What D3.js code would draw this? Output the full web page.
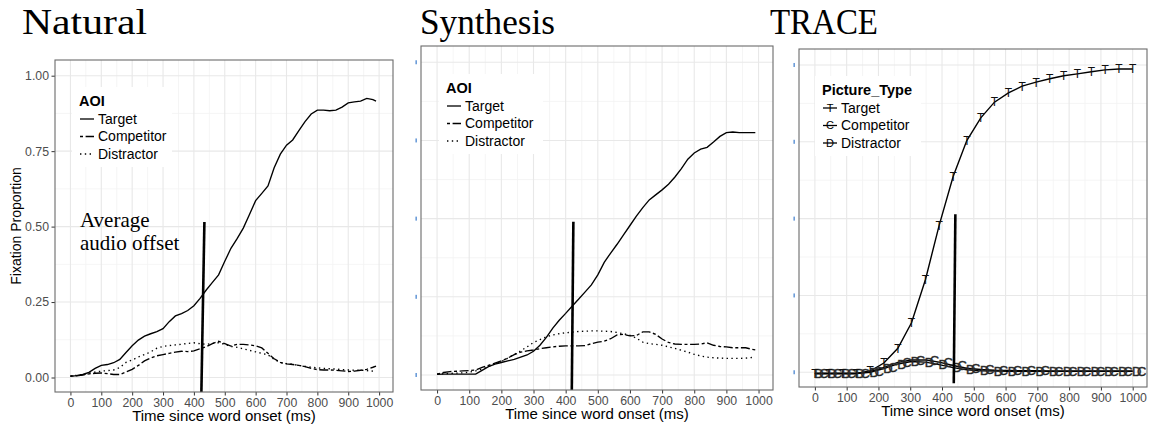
<!DOCTYPE html>
<html><head><meta charset="utf-8">
<script src="https://cdn.jsdelivr.net/npm/d3@7/dist/d3.min.js"></script>
<style>body{margin:0;background:#fff}svg{display:block}</style>
</head><body>
<svg id="chart" width="1151" height="428"></svg>
<script>
// ---------- data ----------
const timeTicks = [0,100,200,300,400,500,600,700,800,900,1000];
const propTicks = [0,0.25,0.5,0.75,1];
const propTickLabels = ["0.00","0.25","0.50","0.75","1.00"];
const seriesNames = ["Target","Competitor","Distractor"];
const panelTitles = ["Natural","Synthesis","TRACE"];
const legendTitles = ["AOI","AOI","Picture_Type"];
const traceShapes = ["T","C","D"];
const xAxisTitle = "Time since word onset (ms)";
const yAxisTitle = "Fixation Proportion";
const offsetNote = ["Average","audio offset"];

const natTime = [0,20,40,60,80,100,120,140,160,180,200,220,240,260,280,300,320,340,360,380,400,420,440,460,480,500,520,540,560,580,600,620,640,660,680,700,720,740,760,780,800,820,840,860,880,900,920,940,960,980,990];
const natTarget = [0.004,0.006,0.010,0.017,0.030,0.040,0.043,0.049,0.060,0.083,0.105,0.124,0.137,0.145,0.152,0.162,0.185,0.204,0.212,0.222,0.238,0.262,0.290,0.315,0.340,0.385,0.428,0.460,0.495,0.540,0.586,0.610,0.635,0.695,0.740,0.770,0.787,0.818,0.848,0.873,0.886,0.886,0.884,0.886,0.896,0.910,0.913,0.916,0.925,0.921,0.916];
const natCompetitor = [0.005,0.006,0.008,0.012,0.014,0.015,0.013,0.010,0.010,0.018,0.027,0.040,0.055,0.065,0.072,0.076,0.080,0.084,0.087,0.086,0.088,0.095,0.102,0.112,0.120,0.112,0.104,0.110,0.110,0.108,0.105,0.098,0.080,0.062,0.050,0.045,0.043,0.040,0.036,0.030,0.026,0.025,0.025,0.024,0.022,0.020,0.021,0.024,0.027,0.034,0.038];
const natDistractor = [0.005,0.007,0.010,0.014,0.018,0.021,0.023,0.025,0.033,0.050,0.058,0.068,0.076,0.085,0.097,0.103,0.106,0.108,0.110,0.113,0.115,0.112,0.110,0.113,0.115,0.110,0.103,0.100,0.095,0.090,0.085,0.080,0.075,0.060,0.050,0.046,0.044,0.040,0.037,0.034,0.032,0.030,0.029,0.028,0.026,0.025,0.024,0.024,0.023,0.021,0.020];
const natOffsetTime = [434,424];
const natOffsetProp = [0.515,-0.06];

const synTime = natTime;
const synTarget = [0.002,0.003,0.003,0.003,0.003,0.003,0.003,0.015,0.027,0.035,0.040,0.045,0.050,0.057,0.064,0.076,0.095,0.120,0.150,0.175,0.197,0.220,0.242,0.265,0.288,0.320,0.360,0.390,0.418,0.448,0.478,0.508,0.535,0.560,0.576,0.592,0.610,0.633,0.660,0.690,0.710,0.722,0.728,0.745,0.763,0.775,0.777,0.775,0.775,0.775,0.775];
const synCompetitor = [0.003,0.008,0.011,0.012,0.013,0.014,0.016,0.024,0.031,0.038,0.045,0.054,0.065,0.073,0.077,0.080,0.084,0.087,0.090,0.092,0.093,0.093,0.093,0.094,0.100,0.105,0.108,0.116,0.128,0.130,0.125,0.126,0.138,0.138,0.130,0.115,0.104,0.099,0.098,0.098,0.098,0.099,0.103,0.095,0.091,0.090,0.087,0.087,0.087,0.082,0.080];
const synDistractor = [0.003,0.004,0.005,0.006,0.007,0.009,0.013,0.019,0.027,0.035,0.043,0.054,0.066,0.077,0.090,0.104,0.113,0.122,0.128,0.132,0.135,0.137,0.139,0.140,0.141,0.141,0.140,0.139,0.136,0.132,0.127,0.118,0.105,0.100,0.098,0.095,0.090,0.085,0.079,0.073,0.066,0.061,0.057,0.055,0.054,0.053,0.053,0.053,0.054,0.056,0.057];
const synOffsetTime = [424,419];
const synOffsetProp = [0.49,-0.06];

const traceTime = [0,43,87,130,174,217,261,304,348,391,435,478,522,565,609,652,696,739,783,826,870,913,957,1000];
const traceTarget = [-0.004,-0.004,-0.004,-0.004,0.004,0.030,0.078,0.161,0.302,0.478,0.637,0.754,0.828,0.879,0.909,0.931,0.944,0.955,0.965,0.971,0.978,0.984,0.987,0.987];
const traceCompetitor = [-0.004,-0.004,-0.004,-0.004,0.002,0.016,0.032,0.040,0.040,0.033,0.022,0.013,0.009,0.007,0.006,0.005,0.005,0.004,0.004,0.004,0.004,0.004,0.004,0.004];
const traceDistractor = [-0.004,-0.004,-0.004,-0.004,0.000,0.012,0.027,0.035,0.033,0.025,0.015,0.008,0.005,0.004,0.003,0.003,0.003,0.003,0.003,0.003,0.003,0.003,0.003,0.003];
const traceOffsetTime = [442,437];
const traceOffsetProp = [0.514,-0.036];

// ---------- drawing ----------
const svg = d3.select("#chart");
const SANS = "'Liberation Sans', Arial, sans-serif";
const SERIF = "'Liberation Serif', 'Times New Roman', serif";
const dashes = [null, "3 2.6 9 2.6", "1.4 3.4"];

function drawPanel(p) {
  const b = p.box;
  const g = svg.append("g");
  const x = d3.scaleLinear().domain(p.xd).range([b.x0, b.x1]);
  const y = d3.scaleLinear().domain(p.yd).range([b.y1, b.y0]);
  const clipId = "clip" + p.idx;
  svg.append("clipPath").attr("id", clipId).append("rect")
    .attr("x", b.x0).attr("y", b.y0).attr("width", b.x1 - b.x0).attr("height", b.y1 - b.y0);

  const grid = g.append("g");
  const minorX = timeTicks.slice(1).map((t, i) => (t + timeTicks[i]) / 2);
  const minorY = propTicks.slice(1).map((t, i) => (t + propTicks[i]) / 2);
  grid.selectAll(".mx").data(minorX).join("line")
    .attr("x1", d => x(d)).attr("x2", d => x(d)).attr("y1", b.y0).attr("y2", b.y1)
    .attr("stroke", "#f2f2f2").attr("stroke-width", 0.8);
  grid.selectAll(".my").data(minorY).join("line")
    .attr("y1", d => y(d)).attr("y2", d => y(d)).attr("x1", b.x0).attr("x2", b.x1)
    .attr("stroke", "#f2f2f2").attr("stroke-width", 0.8);
  grid.selectAll(".gx").data(timeTicks).join("line")
    .attr("x1", d => x(d)).attr("x2", d => x(d)).attr("y1", b.y0).attr("y2", b.y1)
    .attr("stroke", "#e8e8e8").attr("stroke-width", 1.1);
  grid.selectAll(".gy").data(propTicks).join("line")
    .attr("y1", d => y(d)).attr("y2", d => y(d)).attr("x1", b.x0).attr("x2", b.x1)
    .attr("stroke", "#e8e8e8").attr("stroke-width", 1.1);

  // x axis
  const xa = g.append("g").attr("transform", `translate(0,${b.y1})`)
    .call(d3.axisBottom(x).tickValues(timeTicks).tickSize(3.5).tickPadding(2.5).tickFormat(d3.format("d")));
  xa.select(".domain").remove();
  xa.selectAll("line").attr("stroke", "#333");
  xa.selectAll("text").attr("fill", "#4d4d4d").style("font-family", SANS).style("font-size", "12.3px");

  if (p.yLabels) {
    const ya = g.append("g").attr("transform", `translate(${b.x0},0)`)
      .call(d3.axisLeft(y).tickValues(propTicks).tickSize(3.5).tickPadding(2.5).tickFormat((d, i) => propTickLabels[i]));
    ya.select(".domain").remove();
    ya.selectAll("line").attr("stroke", "#333");
    ya.selectAll("text").attr("fill", "#4d4d4d").style("font-family", SANS).style("font-size", "12.3px");
    g.append("text").attr("transform", `translate(${b.x0 - 39},${(b.y0 + b.y1) / 2}) rotate(-90)`)
      .attr("text-anchor", "middle").attr("dy", "0.35em")
      .style("font-family", SANS).style("font-size", "14px").attr("fill", "#000").text(yAxisTitle);
  } else {
    g.selectAll(".bt").data(propTicks).join("rect")
      .attr("x", b.x0 - 5.5).attr("y", d => y(d) - 2).attr("width", 1.3).attr("height", 4)
      .attr("fill", "#4a86d0");
  }

  g.append("text").attr("x", (b.x0 + b.x1) / 2).attr("y", b.y1 + 29)
    .attr("text-anchor", "middle")
    .style("font-family", SANS).style("font-size", "15px").attr("fill", "#000").text(xAxisTitle);

  // title
  g.append("text").attr("x", p.titleX).attr("y", 34)
    .attr("textLength", p.titleW).attr("lengthAdjust", "spacingAndGlyphs")
    .style("font-family", SERIF).style("font-size", "35px").attr("fill", "#000").text(panelTitles[p.idx]);

  // data
  const dg = g.append("g").attr("clip-path", `url(#${clipId})`);
  const line = d3.line().x(d => x(d[0])).y(d => y(d[1]));
  p.series.forEach((s, i) => {
    const pts = s.time.map((t, k) => [t, s.vals[k]]);
    dg.append("path").datum(pts).attr("d", line).attr("fill", "none")
      .attr("stroke", "#000").attr("stroke-width", p.markers ? 1.4 : 1.35)
      .attr("stroke-dasharray", p.markers ? null : dashes[i]);
  });
  if (p.markers) {
    const offs = [0, 9, 4];
    [2, 1, 0].forEach(i => {
      const s = p.series[i];
      dg.selectAll(".m" + i).data(s.time.map((t, k) => [t, s.vals[k]])).join("text")
        .attr("x", d => x(d[0]) + offs[i]).attr("y", d => y(d[1]))
        .attr("text-anchor", "middle").attr("dy", "0.36em")
        .style("font-family", SANS).style("font-size", i === 0 ? "12px" : "13px")
        .attr("fill", "#111")
        .attr("stroke", i === 0 ? "none" : "#444").attr("stroke-width", i === 0 ? 0 : 0.45)
        .text(traceShapes[i]);
    });
  }
  // offset line
  const op = p.offTime.map((t, k) => [t, p.offProp[k]]);
  dg.append("path").datum(op).attr("d", line).attr("stroke", "#000").attr("stroke-width", 2.6).attr("fill", "none");

  // border
  g.append("rect").attr("x", b.x0).attr("y", b.y0).attr("width", b.x1 - b.x0).attr("height", b.y1 - b.y0)
    .attr("fill", "none").attr("stroke", "#6b6b6b").attr("stroke-width", 1.1);

  // legend
  const L = p.legend;
  const lg = g.append("g");
  lg.append("rect").attr("x", L.x - 7).attr("y", L.y - 14).attr("width", L.w).attr("height", 80).attr("fill", "#fff");
  lg.append("text").attr("x", L.x).attr("y", L.y).attr("dy", "0.35em")
    .style("font-family", SANS).style("font-size", "14.5px").style("font-weight", "bold").text(legendTitles[p.idx]);
  seriesNames.forEach((n, i) => {
    const yy = L.y + 18 + i * 17.5;
    lg.append("line").attr("x1", L.x + 1).attr("x2", L.x + 15).attr("y1", yy).attr("y2", yy)
      .attr("stroke", "#000").attr("stroke-width", 1.3)
      .attr("stroke-dasharray", p.markers ? null : dashes[i]);
    if (p.markers) {
      lg.append("text").attr("x", L.x + 8).attr("y", yy).attr("dy", "0.36em").attr("text-anchor", "middle")
        .style("font-family", SANS).style("font-size", "11px").text(traceShapes[i]);
    }
    lg.append("text").attr("x", L.x + 19).attr("y", yy).attr("dy", "0.35em")
      .style("font-family", SANS).style("font-size", "14px").text(n);
  });
  return {x, y};
}

const dom = {xd: [-50, 1045], yd: [-0.048, 1.052]};
drawPanel({idx: 0, box: {x0: 55, y0: 60, x1: 393, y1: 392}, ...dom, yLabels: true,
  titleX: 22, titleW: 125,
  series: [{time: natTime, vals: natTarget}, {time: natTime, vals: natCompetitor}, {time: natTime, vals: natDistractor}],
  offTime: natOffsetTime, offProp: natOffsetProp, legend: {x: 79, y: 101, w: 100}});
svg.append("text").attr("x", 80).attr("y", 227).style("font-family", SERIF).style("font-size", "21px").text(offsetNote[0]);
svg.append("text").attr("x", 80).attr("y", 250).style("font-family", SERIF).style("font-size", "21px").text(offsetNote[1]);

drawPanel({idx: 1, box: {x0: 421, y0: 46, x1: 773, y1: 390}, ...dom, yLabels: false,
  titleX: 420, titleW: 135,
  series: [{time: synTime, vals: synTarget}, {time: synTime, vals: synCompetitor}, {time: synTime, vals: synDistractor}],
  offTime: synOffsetTime, offProp: synOffsetProp, legend: {x: 446, y: 88, w: 104}});

drawPanel({idx: 2, box: {x0: 799, y0: 49, x1: 1147, y1: 387}, ...dom, yLabels: false, markers: true,
  titleX: 770, titleW: 108,
  series: [{time: traceTime, vals: traceTarget}, {time: traceTime, vals: traceCompetitor}, {time: traceTime, vals: traceDistractor}],
  offTime: traceOffsetTime, offProp: traceOffsetProp, legend: {x: 822, y: 90, w: 106}});
</script>
</body></html>
